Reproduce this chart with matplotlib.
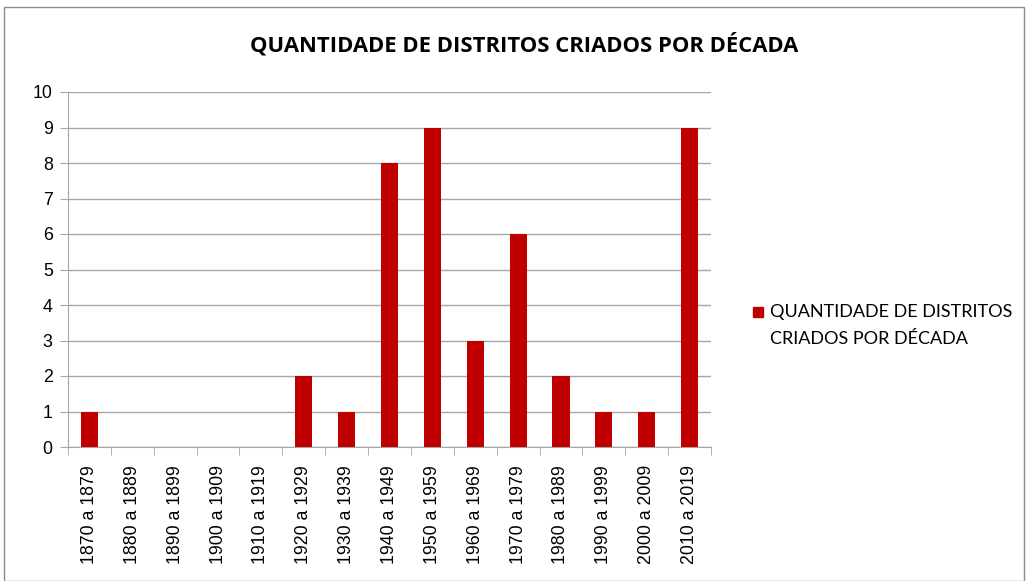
import matplotlib.pyplot as plt
from matplotlib.patches import Rectangle

decadas = ["1870 a 1879", "1880 a 1889", "1890 a 1899", "1900 a 1909", "1910 a 1919",
           "1920 a 1929", "1930 a 1939", "1940 a 1949", "1950 a 1959", "1960 a 1969",
           "1970 a 1979", "1980 a 1989", "1990 a 1999", "2000 a 2009", "2010 a 2019"]
quantidade = [1, 0, 0, 0, 0, 2, 1, 8, 9, 3, 6, 2, 1, 1, 9]

titulo = "QUANTIDADE DE DISTRITOS CRIADOS POR DÉCADA"
legenda = ["QUANTIDADE DE DISTRITOS", "CRIADOS POR DÉCADA"]
cor_barra = "#c00000"
grid_cor = "#a6a6a6"

fig = plt.figure(figsize=(10.26, 5.81), dpi=100)
ax = fig.add_axes([68 / 1026, 1 - 447 / 581, 643 / 1026, 355 / 581])

pos = range(len(decadas))
ax.bar(pos, quantidade, width=0.4, color=cor_barra, zorder=3)

ax.set_xlim(-0.5, len(decadas) - 0.5)
ax.set_ylim(0, 10)
ax.set_yticks(range(11))
ax.set_xticks(list(pos))
ax.set_xticks([i - 0.5 for i in range(len(decadas) + 1)], minor=True)
ax.set_xticklabels(decadas, rotation=90, fontsize=12.8, family="Liberation Sans")
ax.tick_params(axis="x", which="major", length=0, pad=13)
ax.tick_params(axis="x", which="minor", length=6, color=grid_cor)
ax.tick_params(axis="y", length=6, color=grid_cor, labelsize=12.8, pad=5)
for lab in ax.get_yticklabels():
    lab.set_family("Liberation Sans")
ax.grid(axis="y", color=grid_cor, linewidth=1, zorder=0)
for side in ["top", "right"]:
    ax.spines[side].set_visible(False)
for side in ["left", "bottom"]:
    ax.spines[side].set_color(grid_cor)

fig.text(524 / 1026, 1 - 45 / 581, titulo, ha="center", va="center",
         fontsize=15.8, fontweight="bold", family="Open Sans")

# legenda no estilo do Excel: quadrado na primeira linha
fig.patches.append(Rectangle((753 / 1026, 1 - 317 / 581), 10 / 1026, 10 / 581,
                             transform=fig.transFigure, color=cor_barra))
for i, linha in enumerate(legenda):
    fig.text(770 / 1026, 1 - (312 + 27 * i) / 581, linha, ha="left", va="center",
             fontsize=13, family="Lato")

fig.patches.append(Rectangle((4 / 1026, 0), 1 - 6 / 1026, 1 - 7 / 581,
                             transform=fig.transFigure, fill=False,
                             edgecolor="#8c8c8c", linewidth=1))

fig.savefig("out.png", dpi=100)
